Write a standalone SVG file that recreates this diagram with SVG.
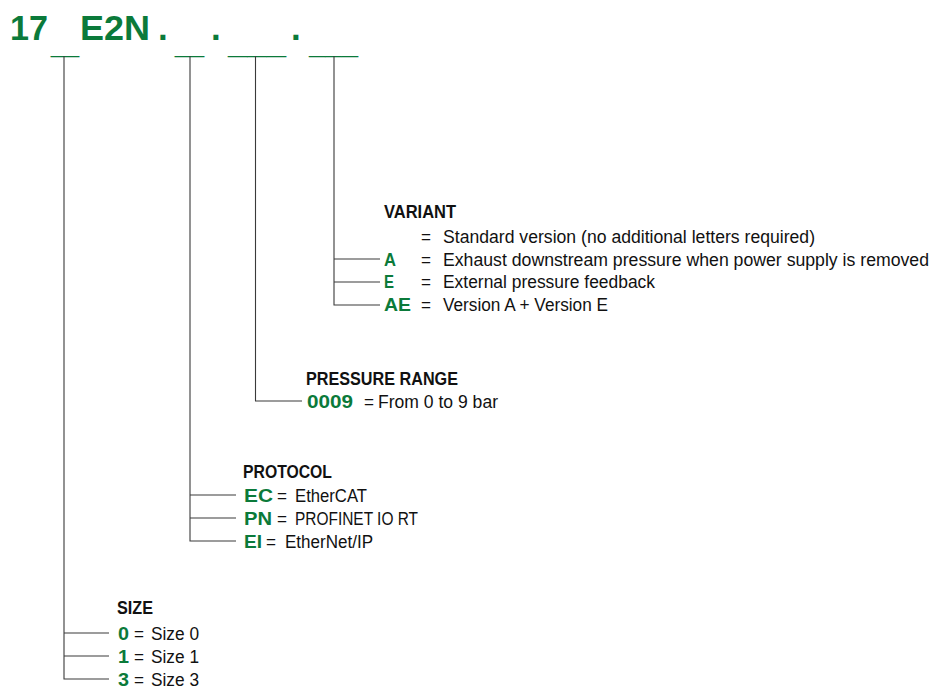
<svg xmlns="http://www.w3.org/2000/svg" width="935" height="691" viewBox="0 0 935 691">
<style>
text{font-family:"Liberation Sans",Arial,sans-serif;}
.t{font-size:35px;font-weight:bold;fill:#0b7a3a;}
.h{font-size:17.5px;font-weight:bold;fill:#111;}
.c{font-size:17.5px;font-weight:bold;fill:#0b7a3a;}
.b{font-size:17.5px;fill:#111;}
.ln{stroke:#3a3a3a;stroke-width:1.1;fill:none;}
</style>
<rect width="935" height="691" fill="#fff"/>
<g id="title">
<text class="t" x="10" y="40" textLength="38" lengthAdjust="spacingAndGlyphs">17</text>
<text class="t" x="51" y="53" textLength="28" lengthAdjust="spacingAndGlyphs">_</text>
<text class="t" x="80" y="40" textLength="70" lengthAdjust="spacingAndGlyphs">E2N</text>
<text class="t" x="158" y="40">.</text>
<text class="t" x="175" y="53" textLength="29" lengthAdjust="spacingAndGlyphs">_</text>
<text class="t" x="211" y="40">.</text>
<text class="t" x="228" y="53" textLength="58" lengthAdjust="spacingAndGlyphs">___</text>
<text class="t" x="291" y="40">.</text>
<text class="t" x="309" y="53" textLength="49" lengthAdjust="spacingAndGlyphs">___</text>
</g>
<g id="connectors">
<path class="ln" d="M334 56V305H380M334 259H380M334 282H380"/>
<path class="ln" d="M255.5 56V401H302"/>
<path class="ln" d="M190 56V541H236M190 495H236M190 518H236"/>
<path class="ln" d="M64 56V679H109M64 633H109M64 656H109"/>
</g>
<g id="variant">
<text class="h" x="384" y="218" textLength="72" lengthAdjust="spacingAndGlyphs">VARIANT</text>
<text class="b" x="421" y="243" textLength="10" lengthAdjust="spacingAndGlyphs">=</text>
<text class="b" x="443" y="243" textLength="372" lengthAdjust="spacingAndGlyphs">Standard version (no additional letters required)</text>
<text class="c" x="384" y="266" textLength="12" lengthAdjust="spacingAndGlyphs">A</text>
<text class="b" x="421" y="266" textLength="10" lengthAdjust="spacingAndGlyphs">=</text>
<text class="b" x="443" y="266" textLength="486" lengthAdjust="spacingAndGlyphs">Exhaust downstream pressure when power supply is removed</text>
<text class="c" x="384" y="288" textLength="10" lengthAdjust="spacingAndGlyphs">E</text>
<text class="b" x="421" y="288" textLength="10" lengthAdjust="spacingAndGlyphs">=</text>
<text class="b" x="443" y="288" textLength="212" lengthAdjust="spacingAndGlyphs">External pressure feedback</text>
<text class="c" x="384" y="311" textLength="27" lengthAdjust="spacingAndGlyphs">AE</text>
<text class="b" x="421" y="311" textLength="10" lengthAdjust="spacingAndGlyphs">=</text>
<text class="b" x="443" y="311" textLength="165" lengthAdjust="spacingAndGlyphs">Version A + Version E</text>
</g>
<g id="pressure">
<text class="h" x="306" y="385" textLength="152" lengthAdjust="spacingAndGlyphs">PRESSURE RANGE</text>
<text class="c" x="307" y="408" textLength="46" lengthAdjust="spacingAndGlyphs">0009</text>
<text class="b" x="364" y="408" textLength="10" lengthAdjust="spacingAndGlyphs">=</text>
<text class="b" x="378" y="408" textLength="120" lengthAdjust="spacingAndGlyphs">From 0 to 9 bar</text>
</g>
<g id="protocol">
<text class="h" x="243" y="478" textLength="89" lengthAdjust="spacingAndGlyphs">PROTOCOL</text>
<text class="c" x="244" y="502" textLength="29" lengthAdjust="spacingAndGlyphs">EC</text>
<text class="b" x="277" y="502" textLength="10" lengthAdjust="spacingAndGlyphs">=</text>
<text class="b" x="295" y="502" textLength="72" lengthAdjust="spacingAndGlyphs">EtherCAT</text>
<text class="c" x="244" y="525" textLength="28" lengthAdjust="spacingAndGlyphs">PN</text>
<text class="b" x="277" y="525" textLength="10" lengthAdjust="spacingAndGlyphs">=</text>
<text class="b" x="295" y="525" textLength="123" lengthAdjust="spacingAndGlyphs">PROFINET IO RT</text>
<text class="c" x="244" y="548" textLength="18" lengthAdjust="spacingAndGlyphs">EI</text>
<text class="b" x="266" y="548" textLength="10" lengthAdjust="spacingAndGlyphs">=</text>
<text class="b" x="285" y="548" textLength="88" lengthAdjust="spacingAndGlyphs">EtherNet/IP</text>
</g>
<g id="size">
<text class="h" x="117" y="614" textLength="36" lengthAdjust="spacingAndGlyphs">SIZE</text>
<text class="c" x="118" y="640" textLength="11" lengthAdjust="spacingAndGlyphs">0</text>
<text class="b" x="134" y="640" textLength="10" lengthAdjust="spacingAndGlyphs">=</text>
<text class="b" x="151" y="640" textLength="48" lengthAdjust="spacingAndGlyphs">Size 0</text>
<text class="c" x="118" y="663" textLength="11" lengthAdjust="spacingAndGlyphs">1</text>
<text class="b" x="134" y="663" textLength="10" lengthAdjust="spacingAndGlyphs">=</text>
<text class="b" x="151" y="663" textLength="48" lengthAdjust="spacingAndGlyphs">Size 1</text>
<text class="c" x="118" y="686" textLength="11" lengthAdjust="spacingAndGlyphs">3</text>
<text class="b" x="134" y="686" textLength="10" lengthAdjust="spacingAndGlyphs">=</text>
<text class="b" x="151" y="686" textLength="48" lengthAdjust="spacingAndGlyphs">Size 3</text>
</g>
</svg>
